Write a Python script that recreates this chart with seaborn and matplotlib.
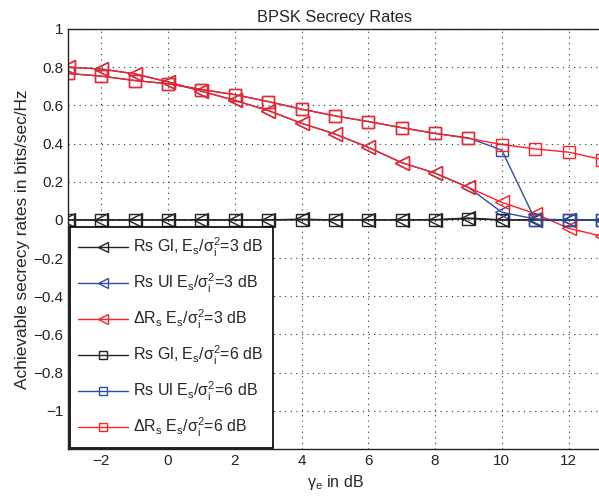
import numpy as np
import matplotlib
matplotlib.use('Agg')
import matplotlib.pyplot as plt
import seaborn as sns

# data
gamma_e = list(range(-3, 14))
rs_gi_3 = [0.0, 0.0, 0.0, 0.0, 0.0, 0.0, 0.0, 0.004, 0.0, 0.0, 0.0, 0.002, 0.01, 0.0, 0.0, 0.0, 0.0]
rs_ui_3 = [0.80, 0.79, 0.765, 0.723, 0.674, 0.626, 0.573, 0.506, 0.45, 0.38, 0.30, 0.245, 0.17, 0.04, 0.005, 0.0, 0.0]
d_rs_3 = [0.80, 0.79, 0.765, 0.723, 0.674, 0.626, 0.573, 0.506, 0.45, 0.38, 0.30, 0.245, 0.17, 0.092, 0.033, -0.044, -0.085]
rs_gi_6 = [0.0, 0.0, 0.0, 0.0, 0.0, 0.0, 0.0, 0.0, 0.0, 0.0, 0.0, 0.0, 0.006, 0.0, 0.0, 0.0, 0.0]
rs_ui_6 = [0.767, 0.753, 0.73, 0.713, 0.683, 0.656, 0.62, 0.58, 0.545, 0.515, 0.483, 0.453, 0.43, 0.365, 0.0, 0.0, 0.0]
d_rs_6 = [0.767, 0.753, 0.73, 0.713, 0.683, 0.656, 0.62, 0.58, 0.545, 0.515, 0.483, 0.453, 0.427, 0.395, 0.372, 0.355, 0.316]

y_ticks = [1, 0.8, 0.6, 0.4, 0.2, 0, -0.2, -0.4, -0.6, -0.8, -1]
y_tick_labels = ['1', '0.8', '0.6', '0.4', '0.2', '0', '\u22120.2', '\u22120.4', '\u22120.6', '\u22120.8', '\u22121']
x_ticks = [-2, 0, 2, 4, 6, 8, 10, 12]
x_tick_labels = ['\u22122', '0', '2', '4', '6', '8', '10', '12']

sns.set_style('white')
plt.rcParams['font.family'] = ['Liberation Sans', 'DejaVu Sans']
plt.rcParams['mathtext.fontset'] = 'custom'
plt.rcParams['mathtext.rm'] = 'Liberation Sans'
plt.rcParams['mathtext.it'] = 'Liberation Sans'

black = '#222222'
blue = '#2c4ea8'
red = '#ff2222'

series = [
    (rs_gi_3, black, '<', r'Rs Gl, $\mathregular{E_s/\sigma_i^2}$=3 dB'),
    (rs_ui_3, blue, '<', r'Rs Ul $\mathregular{E_s/\sigma_i^2}$=3 dB'),
    (d_rs_3, red, '<', r'$\mathregular{\Delta R_s\ E_s/\sigma_i^2}$=3 dB'),
    (rs_gi_6, black, 's', r'Rs Gl, $\mathregular{E_s/\sigma_i^2}$=6 dB'),
    (rs_ui_6, blue, 's', r'Rs Ul $\mathregular{E_s/\sigma_i^2}$=6 dB'),
    (d_rs_6, red, 's', r'$\mathregular{\Delta R_s\ E_s/\sigma_i^2}$=6 dB'),
]

fig = plt.figure(figsize=(5.99, 5.04), dpi=100)
ax = fig.add_axes([0.1135, 0.109, 0.8915, 0.8335])

for vals, c, m, lab in series:
    sns.lineplot(x=gamma_e, y=vals, ax=ax, color=c, marker=m,
                 markersize=10 if m == '<' else 8, markerfacecolor='none',
                 markeredgecolor=c, markeredgewidth=1.0, linewidth=1.0, label=lab)

ax.set_xlim(-3, 13)
ax.set_ylim(-1.2, 1)
ax.set_xticks(x_ticks)
ax.set_xticklabels(x_tick_labels)
ax.set_yticks(y_ticks)
ax.set_yticklabels(y_tick_labels)
ax.tick_params(direction='in', labelsize=11, length=4, colors='#222222')
ax.grid(True, linestyle=(0, (1, 4)), color='#333333', linewidth=0.8)
for s in ax.spines.values():
    s.set_color('#222222')
    s.set_linewidth(1.0)

ax.set_title('BPSK Secrecy Rates', fontsize=11.8, pad=5)
ax.set_xlabel(r'$\mathregular{\gamma_e}$ in dB', fontsize=11.5)
ax.set_ylabel('Achievable secrecy rates in bits/sec/Hz', fontsize=12.4, labelpad=2)

leg = ax.legend(loc='lower left', bbox_to_anchor=(0.003, 0.003), borderaxespad=0,
                fontsize=11.5, handlelength=3.1, handletextpad=0.35, labelspacing=0.8,
                markerscale=0.75, fancybox=False, edgecolor='black', framealpha=1,
                borderpad=0.55)
leg.get_frame().set_linewidth(1.2)

fig.savefig('out.png', dpi=100)
